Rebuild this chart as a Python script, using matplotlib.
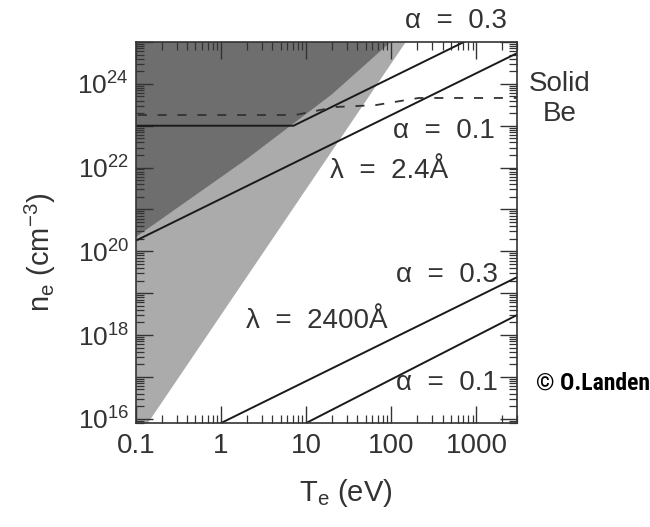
import numpy as np
import matplotlib
matplotlib.use('Agg')
from matplotlib import pyplot as plt
from matplotlib.ticker import LogLocator, FuncFormatter, NullFormatter

# Values (T in eV, n in cm^-3)
T_lim = [0.1, 3000]
n_lim = [7.9e15, 1.0e25]

# edge of the light grey wedge
T_claro = [0.138, 148]
n_claro = [7.9e15, 1.0e25]

# lower edge of the dark grey region
T_escuro = [0.1, 2.0, 20, 98]
n_escuro = [2.2e20, 1.6e22, 5.6e23, 1.0e25]

# lambda = 2.4 A, alpha = 0.3 (with the flat part) and alpha = 0.1
T_x03 = [0.1, 7.1, 3000]
n_x03 = [1.0e23, 1.0e23, 4.2e25]
T_x01 = [0.1, 3000]
n_x01 = [1.8e20, 5.4e24]

# lambda = 2400 A, alpha = 0.3 and alpha = 0.1
T_uv03 = [1.0, 3000]
n_uv03 = [7.9e15, 2.4e19]
T_uv01 = [10, 3000]
n_uv01 = [7.9e15, 3.0e18]

# solid Be electron density (dashed)
T_solido = [0.1, 7.4, 22, 65, 210, 3000]
n_solido = [1.8e23, 1.8e23, 2.8e23, 3.1e23, 4.6e23, 4.6e23]

plt.rcParams['font.family'] = ['Liberation Sans', 'DejaVu Sans']
plt.rcParams['mathtext.fontset'] = 'custom'
plt.rcParams['mathtext.rm'] = 'Liberation Sans'
plt.rcParams['mathtext.it'] = 'Liberation Sans:italic'

W, H = 650, 527
def px(x, y):                                   # pixel of the picture -> figure fraction
    return x / W, 1 - y / H

cor = '#333333'
fig = plt.figure(figsize=(6.5, 5.27), dpi=100)
ax = fig.add_axes([136 / W, 1 - 423 / H, 381 / W, 381 / H])
ax.set_xscale('log')
ax.set_yscale('log')
ax.set_xlim(T_lim)
ax.set_ylim(n_lim)

# shaded regions
ax.fill(T_lim[:1] + T_claro + T_lim[:1], n_lim[:1] + n_claro + n_lim[1:],
        color='#ababab', lw=0, zorder=1)
ax.fill(T_escuro + T_lim[:1], n_escuro + n_lim[1:], color='#6e6e6e', lw=0, zorder=1.5)

# lines
for T, n in [(T_x03, n_x03), (T_x01, n_x01), (T_uv03, n_uv03), (T_uv01, n_uv01)]:
    ax.plot(T, n, color='#1a1a1a', lw=1.4, zorder=3)
ax.plot(T_solido, n_solido, color='#333333', lw=1.3, ls=(10, (5, 6)), zorder=3)

# ticks
ax.xaxis.set_major_locator(LogLocator(base=10, numticks=20))
ax.xaxis.set_minor_locator(LogLocator(base=10, subs=np.arange(2, 10), numticks=100))
ax.xaxis.set_major_formatter(FuncFormatter(lambda v, p: '%g' % v))
ax.xaxis.set_minor_formatter(NullFormatter())
ax.yaxis.set_major_locator(LogLocator(base=10, numticks=20))
ax.yaxis.set_minor_locator(LogLocator(base=10, subs=np.arange(2, 10), numticks=100))
def rotulo_y(v, p):
    e = int(round(np.log10(v)))
    return r'$\mathregular{10^{%d}}$' % e if e % 2 == 0 else ''
ax.yaxis.set_major_formatter(FuncFormatter(rotulo_y))
ax.yaxis.set_minor_formatter(NullFormatter())
ax.tick_params(which='both', direction='in', top=True, right=True, color=cor, labelcolor=cor)
ax.tick_params(which='major', length=12, width=1.0)
ax.tick_params(which='minor', length=6, width=0.9)
ax.tick_params(axis='x', labelsize=20, pad=7)
ax.tick_params(axis='y', labelsize=19, pad=5)
for s in ax.spines.values():
    s.set_color(cor)
    s.set_linewidth(1.2)
    s.set_zorder(4)

# axis labels
ax.set_xlabel(r'$\mathregular{T_e}$ (eV)', fontsize=21, color=cor, va='center')
ax.xaxis.set_label_coords((346 - 136) / 381, (423 - 493) / 381)
ax.set_ylabel(r'$\mathregular{n_e}$ (cm$^{\mathregular{-3}}$)', fontsize=21, color=cor, va='center')
ax.yaxis.set_label_coords((40 - 136) / 381, (423 - 252) / 381)

# annotations
txt = dict(fontsize=20, color=cor, ha='center', va='center')
fig.text(*px(456, 21), 'α  =  0.3', **txt)
fig.text(*px(560, 99), 'Solid\nBe', linespacing=1.2, **txt)
fig.text(*px(444, 131), 'α  =  0.1', **txt)
fig.text(*px(389, 171), 'λ  =  2.4Å', **txt)
fig.text(*px(447, 275), 'α  =  0.3', **txt)
fig.text(*px(317, 321), 'λ  =  2400Å', **txt)
fig.text(*px(447, 383), 'α  =  0.1', **txt)
fig.text(*px(536, 383), '© O.Landen', fontsize=17, fontweight='bold', color='black',
         ha='left', va='center',
         family=['Liberation Sans Narrow', 'Roboto Condensed', 'Liberation Sans'])

fig.savefig('out.png', dpi=100)
